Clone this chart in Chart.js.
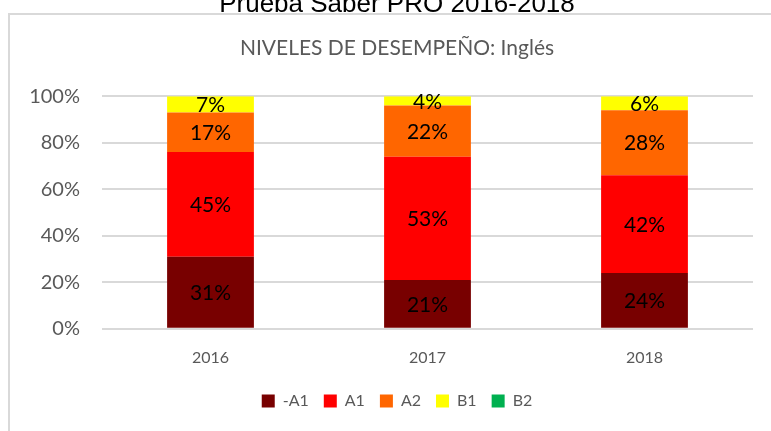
<!DOCTYPE html>
<html>
<head>
<meta charset="utf-8">
<script src="https://cdn.jsdelivr.net/npm/chart.js@4"></script>
<style>
  html, body { margin: 0; padding: 0; background: #fff; overflow: hidden; width: 771px; height: 431px; }
  #frame { position: absolute; left: 8px; top: 13px; width: 800px; height: 500px; border: 2px solid #d9d9d9; box-sizing: border-box; }
  #outerTitle { position: absolute; left: 0; top: -10px; width: 794px; text-align: center; font: 26px "Liberation Sans", Arial, sans-serif; line-height: 26px; color: #000; }
  #wrap { position: absolute; left: 0; top: 0; width: 785px; height: 431px; }
</style>
</head>
<body>
<div id="frame"></div>
<div id="wrap"><canvas id="chartNiveles"></canvas></div>
<div id="outerTitle">Prueba Saber PRO 2016-2018</div>
<script>
const anios = ['2016', '2017', '2018'];
const menosA1 = [31, 21, 24];
const a1 = [45, 53, 42];
const a2 = [17, 22, 28];
const b1 = [7, 4, 6];
const b2 = [0, 0, 0];
const yTicks = [0, 20, 40, 60, 80, 100];

const grisTexto = '#595959';
const fuente = 'Lato, "Open Sans", sans-serif';

// etiquetas de porcentaje dentro de cada segmento
const etiquetas = {
  id: 'etiquetas',
  afterDatasetsDraw(chart) {
    const ctx = chart.ctx;
    ctx.save();
    ctx.font = '21px ' + fuente;
    ctx.fillStyle = '#000';
    ctx.textAlign = 'center';
    ctx.textBaseline = 'middle';
    chart.data.datasets.forEach((ds, i) => {
      const meta = chart.getDatasetMeta(i);
      meta.data.forEach((bar, j) => {
        const v = ds.data[j];
        if (!v) return;
        ctx.fillText(v + '%', bar.x, (bar.y + bar.base) / 2 + 1);
      });
    });
    ctx.restore();
  }
};

const ctxNiveles = document.getElementById('chartNiveles');
new Chart(ctxNiveles, {
  type: 'bar',
  data: {
    labels: anios,
    datasets: [
      { label: '-A1', data: menosA1, backgroundColor: '#780000' },
      { label: 'A1', data: a1, backgroundColor: '#ff0000' },
      { label: 'A2', data: a2, backgroundColor: '#ff6600' },
      { label: 'B1', data: b1, backgroundColor: '#ffff00' },
      { label: 'B2', data: b2, backgroundColor: '#00b050' }
    ]
  },
  options: {
    responsive: true,
    maintainAspectRatio: false,
    animation: false,
    datasets: { bar: { categoryPercentage: 1, barPercentage: 0.4 } },
    layout: { padding: { left: 9, right: 0, top: 0, bottom: 12 } },
    plugins: {
      tooltip: { enabled: false },
      title: {
        display: true,
        text: 'NIVELES DE DESEMPEÑO: Inglés',
        color: grisTexto,
        font: { family: fuente, size: 21, weight: 'normal' },
        padding: { top: 36, bottom: 35 }
      },
      legend: {
        position: 'bottom',
        labels: {
          color: grisTexto,
          font: { family: fuente, size: 16 },
          boxWidth: 13,
          boxHeight: 13,
          padding: 15
        }
      }
    },
    scales: {
      x: {
        stacked: true,
        grid: { display: false },
        border: { display: false },
        ticks: { color: grisTexto, font: { family: fuente, size: 16 }, padding: 11 }
      },
      y: {
        stacked: true,
        min: 0,
        max: 100,
        afterBuildTicks(scale) { scale.ticks = yTicks.map(v => ({ value: v })); },
        afterFit(scale) { scale.width = 93; },
        grid: { color: '#d9d9d9', lineWidth: 2, drawTicks: false },
        border: { display: false },
        ticks: {
          color: grisTexto,
          font: { family: fuente, size: 20 },
          padding: 22,
          callback: v => v + '%'
        }
      },
      yDer: {
        position: 'right',
        display: true,
        afterFit(scale) { scale.width = 32; },
        grid: { display: false },
        border: { display: false },
        ticks: { display: false }
      }
    }
  },
  plugins: [etiquetas]
});
</script>
</body>
</html>
